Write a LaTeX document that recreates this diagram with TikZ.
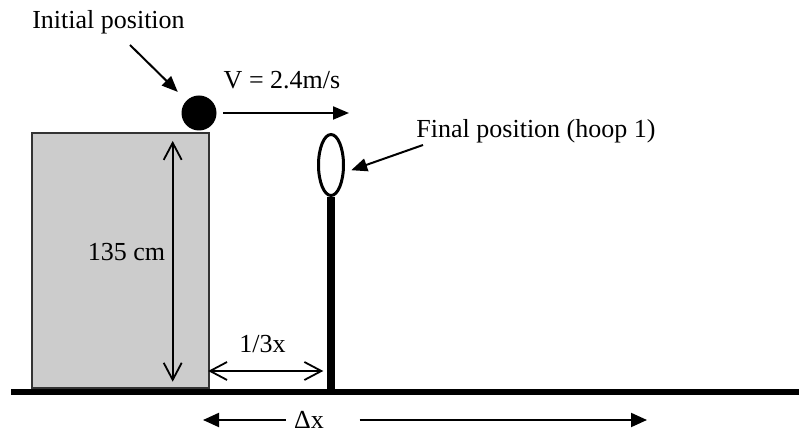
\documentclass[tikz,border=0pt]{standalone}
\usepackage{fontspec}
\setmainfont{Liberation Serif}
\usepackage{tikz}
\usetikzlibrary{shapes.geometric, arrows.meta, calc}

\begin{document}
\begin{tikzpicture}[
    x=0.5pt, y=-0.5pt,
    % Text labels
    lbl/.style={inner sep=0pt, anchor=base, font=\fontsize{13}{15}\selectfont},
    % Table / block
    block/.style={rectangle, draw=black!80, line width=0.75pt, fill=gray!40,
                  minimum width=88.5pt, minimum height=127.5pt, inner sep=0pt},
    % Ball
    ball/.style={circle, fill=black, minimum size=17.5pt, inner sep=0pt},
    % Hoop
    hoop/.style={ellipse, draw=black, line width=1.5pt,
                 minimum width=12.5pt, minimum height=30.5pt, inner sep=0pt},
    ground/.style={line width=3pt, black},
    pole/.style={line width=3.8pt, black},
    arrow/.style={-{Triangle[length=8pt, width=6.5pt]}, line width=1pt},
    dimarrow/.style={{Straight Barb[length=8.5pt, width=9pt]}-{Straight Barb[length=8.5pt, width=9pt]},
                     line width=0.9pt}
]
\useasboundingbox (0,0) rectangle (799,432);

%-------- OBJECTS --------
\node[block] (box) at (120.5,260.5) {};
\node[ball] (ball) at (199,113) {};
\node[hoop] (hoop) at (331,165) {};

\coordinate (gl) at (11,392);
\coordinate (gr) at (799,392);
\coordinate (pb) at (hoop.south |- gl);

\draw[ground] (gl) -- (gr);
\draw[pole] (hoop.south) -- (pb);

%-------- LABELS --------
\node[lbl] (initlbl) at (108.5,29) {Initial position};
\node[lbl] (vlbl)    at (282,89)   {V = 2.4m/s};
\node[lbl] (finlbl)  at (536,138)  {Final position (hoop 1)};
\node[lbl] (hlbl)    at (126.5,261) {135 cm};
\node[lbl] (dlbl)    at (262.5,353) {1/3x};
\node[lbl] (dxlbl)   at (309,429)  {Δx};

%-------- ARROWS --------
\coordinate (ini)  at (130,45);
\coordinate (fin)  at (423,145);
\coordinate (vtip) at (349,113);
\coordinate (hx)   at (172.7,0);
\coordinate (d13)  at (331,371);
\coordinate (dxl)  at (203,420);
\coordinate (dxr)  at (647,420);

\draw[arrow, shorten >=6pt] (ini) -- (ball.135);
\draw[arrow, shorten <=3.25pt] (ball.east) -- (vtip);
\draw[arrow, shorten >=3.5pt] (fin) -- (hoop.-29);

\draw[dimarrow, shorten <=4.35pt, shorten >=3.5pt] (box.north -| hx) -- (box.south -| hx);
\draw[dimarrow, shorten <=-0.8pt, shorten >=3.85pt] (box.east |- d13) -- (d13);

\draw[arrow, -{Triangle[length=8pt, width=7pt]}, shorten <=4pt] (dxlbl.west |- dxl) -- (dxl);
\draw[arrow, -{Triangle[length=8pt, width=7pt]}, shorten <=17.7pt] (dxlbl.east |- dxr) -- (dxr);

\end{tikzpicture}
\end{document}
